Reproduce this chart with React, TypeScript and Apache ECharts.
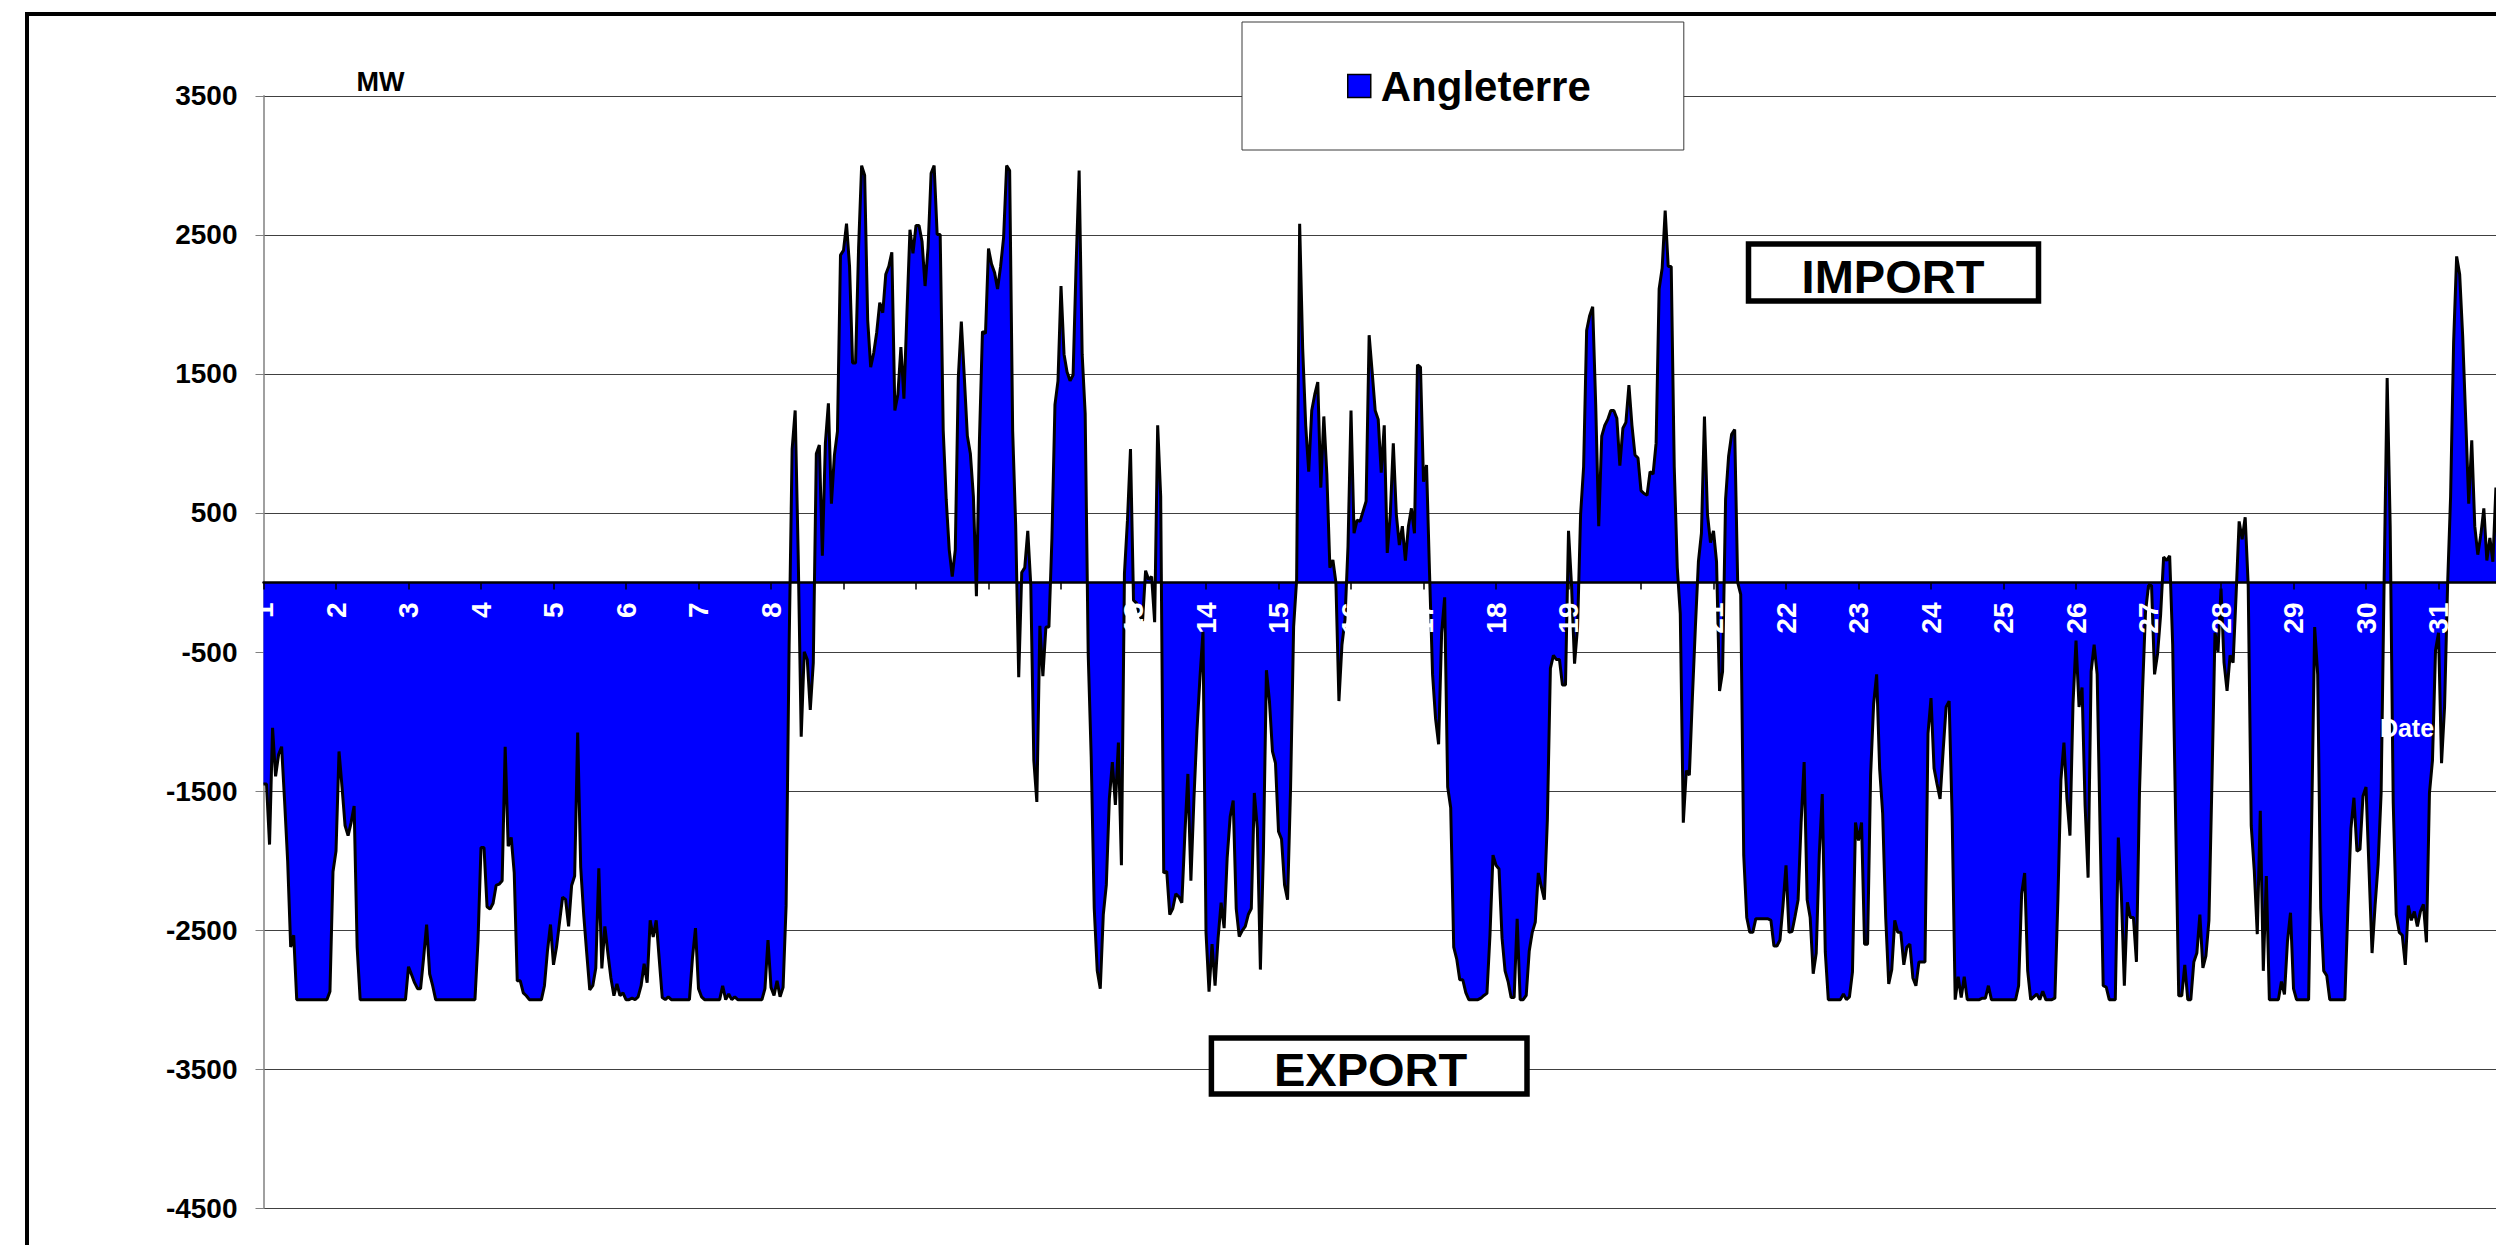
import React, { useEffect, useRef } from 'react';
import * as echarts from 'echarts';

// Day tick labels (one label per day, 24 hourly points per day)
const DAY_LABELS = ['1','2','3','4','5','6','7','8','9','10','11','12','13','14','15','16','17','18','19','20','21','22','23','24','25','26','27','28','29','30','31'];
const HOUR_LABELS = ['00h','01h','02h','03h','04h','05h','06h','07h','08h','09h','10h','11h','12h','13h','14h','15h','16h','17h','18h','19h','20h','21h','22h','23h'];

// Hourly exchange with England (MW), positive = import, negative = export
const day01 = [-1450,-1450,-1885,-1045,-1394,-1237,-1181,-1578,-2004,-2622,-2537,-3000,-3000,-3000,-3000,-3000,-3000,-3000,-3000,-3000,-3000,-3000,-2942,-2081];
const day02 = [-1932,-1215,-1471,-1748,-1821,-1727,-1608,-2622,-3000,-3000,-3000,-3000,-3000,-3000,-3000,-3000,-3000,-3000,-3000,-3000,-3000,-3000,-3000,-3000];
const day03 = [-2763,-2820,-2878,-2921,-2921,-2700,-2460,-2814,-2900,-3000,-3000,-3000,-3000,-3000,-3000,-3000,-3000,-3000,-3000,-3000,-3000,-3000,-3000,-2580];
const day04 = [-1906,-1906,-2332,-2349,-2307,-2179,-2170,-2145,-1181,-1897,-1834,-2089,-2865,-2865,-2951,-2972,-3000,-3000,-3000,-3000,-3000,-2900,-2650,-2460];
const day05 = [-2750,-2622,-2443,-2264,-2280,-2473,-2179,-2111,-1079,-2047,-2388,-2665,-2929,-2900,-2772,-2055,-2776,-2473,-2665,-2844,-2972,-2887,-2972,-2951];
const day06 = [-3000,-3000,-2990,-3000,-2980,-2900,-2742,-2878,-2430,-2550,-2430,-2708,-2985,-3000,-2980,-3000,-3000,-3000,-3000,-3000,-3000,-3000,-2700,-2486];
const day07 = [-2921,-2980,-3000,-3000,-3000,-3000,-3000,-3000,-2900,-3000,-2960,-3000,-2980,-3000,-3000,-3000,-3000,-3000,-3000,-3000,-3000,-3000,-2921,-2571];
const day08 = [-2912,-2970,-2865,-2980,-2912,-2324,-448,959,1237,200,-1109,-499,-554,-917,-576,925,989,192,1002,1288,567,917,1087,2354];
const day09 = [2388,2580,2273,1578,1578,2409,2998,2929,1889,1548,1650,1800,2013,1940,2217,2273,2375,1237,1352,1693,1322,1940,2537,2367];
const day10 = [2567,2567,2452,2132,2409,2942,2998,2503,2503,1096,597,235,43,235,1471,1876,1471,1053,925,618,-98,1023,1804,1791];
const day11 = [2401,2290,2230,2111,2273,2482,2998,2963,1087,405,-682,72,107,371,-21,-1279,-1578,-311,-674,-320,-320,320,1279,1450];
const day12 = [2132,1642,1514,1450,1492,2281,2963,1642,1215,-512,-1258,-2345,-2793,-2921,-2388,-2175,-1556,-1292,-1599,-1151,-2034,64,448,959];
const day13 = [-128,-149,-235,-277,85,21,43,-286,1130,618,-2089,-2077,-2388,-2345,-2239,-2260,-2303,-1812,-1377,-2145,-1556,-1066,-682,-354];
const day14 = [-2516,-2942,-2601,-2900,-2558,-2303,-2486,-1983,-1684,-1569,-2345,-2546,-2503,-2473,-2388,-2345,-1514,-1770,-2784,-1940,-631,-853,-1215,-1300];
const day15 = [-1791,-1846,-2175,-2281,-1471,-320,21,2580,1684,1130,797,1237,1352,1441,682,1194,780,107,162,0,-853,-448,-269,256];
const day16 = [1237,354,448,439,512,584,1778,1514,1237,1173,789,1130,213,490,1000,490,269,405,158,405,533,354,1565,1548];
const day17 = [725,844,64,-661,-981,-1164,-362,-107,-1471,-1620,-2622,-2708,-2857,-2857,-2950,-3000,-3000,-3000,-3000,-2990,-2970,-2955,-2537,-1961];
const day18 = [-2034,-2060,-2558,-2793,-2870,-2985,-2985,-2418,-3000,-3000,-2970,-2650,-2516,-2443,-2089,-2187,-2281,-1706,-618,-524,-554,-554,-738,-738];
const day19 = [371,-21,-584,-320,490,831,1812,1919,1983,1279,405,1053,1130,1173,1237,1237,1181,840,1109,1151,1420,1130,917,895];
const day20 = [661,640,627,797,780,1002,2111,2260,2674,2273,2273,831,107,-226,-1727,-1352,-1386,-831,-320,149,354,1194,490,286];
const day21 = [371,149,-780,-640,600,908,1066,1100,0,-85,-1961,-2409,-2516,-2516,-2418,-2418,-2418,-2418,-2418,-2430,-2614,-2614,-2571,-2324];
const day22 = [-2034,-2516,-2510,-2400,-2281,-1727,-1292,-2281,-2409,-2814,-2665,-1961,-1522,-2657,-3000,-3000,-3000,-3000,-3000,-2960,-3000,-2980,-2800,-1727];
const day23 = [-1855,-1727,-2601,-2601,-1386,-874,-661,-1343,-1663,-2409,-2887,-2784,-2430,-2516,-2516,-2750,-2622,-2601,-2844,-2900,-2729,-2729,-2729,-1087];
const day24 = [-831,-1335,-1450,-1556,-1215,-895,-853,-1684,-3000,-2836,-2985,-2836,-3000,-3000,-3000,-3000,-3000,-2990,-2990,-2900,-3000,-3000,-3000,-3000];
const day25 = [-3000,-3000,-3000,-3000,-3000,-2900,-2239,-2089,-2793,-3000,-2980,-2960,-3000,-2940,-3000,-3000,-3000,-2990,-2281,-1420,-1151,-1556,-1821,-874];
const day26 = [-418,-895,-755,-1599,-2123,-640,-448,-661,-1812,-2900,-2910,-3000,-3000,-3000,-1834,-2239,-2900,-2300,-2409,-2409,-2729,-1514,-789,-213];
const day27 = [-21,-21,-661,-512,-235,183,158,192,-448,-1727,-2972,-2972,-2750,-3000,-3000,-2729,-2665,-2388,-2772,-2686,-2430,-1429,-362,-499];
const day28 = [-43,-576,-780,-524,-576,-85,439,311,469,-21,-1749,-2068,-2529,-1642,-2793,-2111,-3000,-3000,-3000,-3000,-2870,-2963,-2580,-2375];
const day29 = [-2921,-3000,-3000,-3000,-3000,-3000,-1727,-320,-661,-2345,-2793,-2827,-3000,-3000,-3000,-3000,-3000,-3000,-2345,-1770,-1548,-1932,-1919,-1535];
const day30 = [-1471,-2068,-2665,-2324,-2025,-1514,21,1471,405,-1578,-2388,-2516,-2537,-2750,-2324,-2430,-2366,-2473,-2366,-2315,-2588,-1514,-1279,-490];
const day31 = [-362,-1300,-895,-21,618,1727,2345,2217,1770,1173,567,1023,405,200,341,533,158,320,149,682,-100,-300,-400,-500];

const DAYS = [day01,day02,day03,day04,day05,day06,day07,day08,day09,day10,day11,day12,day13,day14,day15,day16,day17,day18,day19,day20,day21,day22,day23,day24,day25,day26,day27,day28,day29,day30,day31];

const SERIES_NAME = 'Angleterre';
const Y_MIN = -4500;
const Y_MAX = 3500;
const Y_STEP = 1000;

const FONT = "'Liberation Sans', Arial, Helvetica, sans-serif";

const GRID_TOP = 95.8;
const GRID_BOTTOM_Y = 1208.2;
const CHART_W = 2600;
const CHART_H = 1300;

export default function App() {
  const ref = useRef<HTMLDivElement>(null);

  useEffect(() => {
    document.documentElement.style.overflow = 'hidden';
    document.body.style.overflow = 'hidden';
    if (!ref.current) return;
    const chart = echarts.init(ref.current, null, { renderer: 'svg' });

    const categories = DAY_LABELS.flatMap((d) => HOUR_LABELS.map((h) => `${d} ${h}`));
    const values = DAYS.flat();
    const hoursPerDay = HOUR_LABELS.length;

    const staticGraphics: any[] = [
      {
        type: 'rect',
        id: 'frame',
        silent: true,
        z: 1,
        shape: { x: 27, y: 14, width: 2650, height: 1400 },
        style: { fill: 'none', stroke: '#000', lineWidth: 4 },
      },
      {
        type: 'text',
        id: 'mw',
        z: 100,
        style: { text: 'MW', x: 380.5, y: 82, align: 'center', verticalAlign: 'middle', font: `bold 27px ${FONT}`, fill: '#000' },
      },
      {
        type: 'rect',
        id: 'importBox',
        z: 100,
        shape: { x: 1748.5, y: 244, width: 290, height: 57 },
        style: { fill: '#fff', stroke: '#000', lineWidth: 5.5 },
      },
      {
        type: 'text',
        id: 'importText',
        z: 101,
        style: { text: 'IMPORT', x: 1893, y: 276, align: 'center', verticalAlign: 'middle', font: `bold 47px ${FONT}`, fill: '#000' },
      },
      {
        type: 'rect',
        id: 'exportBox',
        z: 100,
        shape: { x: 1211.4, y: 1038, width: 315.6, height: 56 },
        style: { fill: '#fff', stroke: '#000', lineWidth: 5.5 },
      },
      {
        type: 'text',
        id: 'exportText',
        z: 101,
        style: { text: 'EXPORT', x: 1370.6, y: 1069.4, align: 'center', verticalAlign: 'middle', font: `bold 47px ${FONT}`, fill: '#000' },
      },
      {
        type: 'text',
        id: 'dateText',
        z: 100,
        style: { text: 'Date', x: 2407, y: 728, align: 'center', verticalAlign: 'middle', font: `bold 25px ${FONT}`, fill: '#fff' },
      },
    ];

    const option: any = {
      animation: false,
      backgroundColor: '#ffffff',
      grid: { left: 263.5, top: GRID_TOP, right: CHART_W - 2508, bottom: CHART_H - GRID_BOTTOM_Y, containLabel: false },
      legend: {
        left: 1242,
        top: 22,
        orient: 'horizontal',
        padding: [41, 93, 41, 105],
        backgroundColor: '#ffffff',
        borderColor: '#3a3a3a',
        borderWidth: 1,
        itemWidth: 23,
        itemHeight: 23,
        data: [{ name: SERIES_NAME, icon: 'rect' }],
        itemStyle: { color: '#0000ff', borderColor: '#000000', borderWidth: 1.5 },
        textStyle: {
          fontSize: 42,
          fontWeight: 'bold',
          color: '#000',
          fontFamily: FONT,
          lineHeight: 46,
          padding: [0, 0, 0, 5],
        },
      },
      xAxis: {
        type: 'category',
        data: categories,
        boundaryGap: false,
        z: 10,
        axisLine: { show: true, onZero: true, lineStyle: { color: '#000', width: 2.5 } },
        axisTick: { show: true, interval: hoursPerDay - 1, length: 7, lineStyle: { color: '#000', width: 1.5 } },
        axisLabel: { show: false },
        splitLine: { show: false },
      },
      yAxis: {
        type: 'value',
        min: Y_MIN,
        max: Y_MAX,
        interval: Y_STEP,
        axisLine: { show: true, lineStyle: { color: '#808080', width: 1.5 } },
        axisTick: { show: true, length: 8, lineStyle: { color: '#808080', width: 1 } },
        axisLabel: {
          margin: 26,
          color: '#000',
          fontWeight: 'bold',
          fontSize: 28,
          fontFamily: FONT,
          formatter: (v: number) => String(v),
        },
        splitLine: { show: true, lineStyle: { color: '#404040', width: 1 } },
      },
      series: [
        {
          name: SERIES_NAME,
          type: 'line',
          data: values,
          symbol: 'none',
          z: 2,
          lineStyle: { color: '#000', width: 3 },
          itemStyle: { color: '#0000ff' },
          areaStyle: { color: '#0000ff', opacity: 1 },
        },
      ],
      graphic: staticGraphics,
    };

    chart.setOption(option);

    // White day labels, rotated 90°, hanging below the zero line at each day tick
    const dayLabelGraphics = DAY_LABELS.map((label, i) => {
      const p = chart.convertToPixel({ xAxisIndex: 0, yAxisIndex: 0 }, [i * hoursPerDay, 0]) as number[];
      return {
        type: 'text',
        id: `day-${label}`,
        z: 60,
        x: p[0],
        y: p[1] + 20,
        rotation: Math.PI / 2,
        style: {
          text: label,
          x: 0,
          y: 0,
          align: 'right',
          verticalAlign: 'middle',
          font: `bold 28px ${FONT}`,
          fill: '#ffffff',
        },
      };
    });

    chart.setOption({ graphic: [...staticGraphics, ...dayLabelGraphics] });

    return () => {
      chart.dispose();
    };
  }, []);

  return (
    <div
      style={{ position: 'fixed', left: 0, top: 0, width: 2496, height: 1245, overflow: 'hidden', background: '#fff' }}
    >
      <div ref={ref} style={{ position: 'absolute', left: 0, top: 0, width: CHART_W, height: CHART_H }} />
    </div>
  );
}
